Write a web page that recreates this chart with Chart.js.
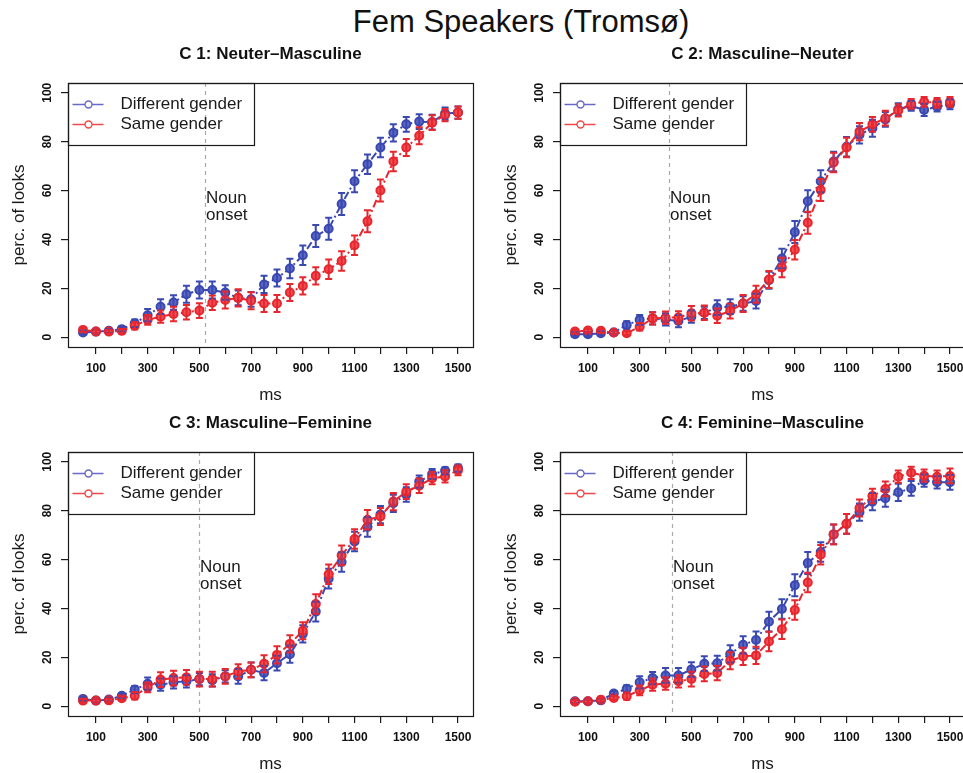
<!DOCTYPE html>
<html>
<head>
<meta charset="utf-8">
<script src="https://cdn.jsdelivr.net/npm/chart.js@4.4.1/dist/chart.umd.min.js"></script>
<style>
  html, body { margin: 0; padding: 0; background: #fff; width: 963px; height: 773px; overflow: hidden; }
  body { position: relative; font-family: "Liberation Sans", Arial, Helvetica, sans-serif; }
  #mainTitle { position: absolute; left: 221px; width: 600px; top: 2px; text-align: center; font-size: 31px; color: #111; line-height: 40px; }
  canvas { position: absolute; }
</style>
</head>
<body>
<div id="mainTitle">Fem Speakers (Tromsø)</div>
<canvas id="c1" width="490" height="370" style="left:0px;top:40px"></canvas>
<canvas id="c2" width="490" height="370" style="left:492px;top:40px"></canvas>
<canvas id="c3" width="490" height="370" style="left:0px;top:409px"></canvas>
<canvas id="c4" width="490" height="370" style="left:492px;top:409px"></canvas>
<script>
// ---------- data ----------
const msValues = [50,100,150,200,250,300,350,400,450,500,550,600,650,700,750,800,850,900,950,1000,1050,1100,1150,1200,1250,1300,1350,1400,1450,1500];
const xTickValues = [100,200,300,400,500,600,700,800,900,1000,1100,1200,1300,1400,1500];
const yTickValues = [0,20,40,60,80,100];
const seriesNames = ["Different gender", "Same gender"];
const panelTitles = ["C 1: Neuter\u2013Masculine", "C 2: Masculine\u2013Neuter", "C 3: Masculine\u2013Feminine", "C 4: Feminine\u2013Masculine"];
const nounOnsets = [520, 412, 500, 425];

const c1Diff = [1.9,2.3,2.6,3.3,5.7,9.0,12.5,14.2,17.6,19.3,19.3,18.3,16.1,15.5,21.6,24.2,28.1,33.5,41.4,44.4,54.5,63.8,70.8,77.6,83.6,87.1,88.2,88.0,91.5,91.9];
const c1Same = [3.0,2.3,2.3,2.6,4.7,7.1,8.4,9.5,10.2,10.9,14.1,15.2,16.1,14.9,13.8,13.8,18.3,21.0,25.1,27.8,31.2,37.6,47.4,60.0,71.9,77.6,82.4,87.8,90.9,91.9];
const c1DiffErr = [0.8,0.8,0.8,1.0,1.5,2.5,3.0,3.0,3.5,3.5,3.5,3.0,3.0,3.0,3.5,3.5,4.0,4.0,4.5,4.5,4.5,4.5,4.0,4.0,3.5,3.0,3.0,3.0,2.5,2.5];
const c1SameErr = [0.8,0.8,0.8,0.8,1.5,2.0,2.5,3.0,3.0,3.0,3.0,3.5,3.5,3.5,3.5,3.5,3.5,3.5,3.5,4.0,4.0,4.0,4.5,4.5,4.0,3.5,3.5,3.0,2.5,2.5];

const c2Diff = [1.2,1.2,1.6,1.9,5.0,7.1,7.7,7.3,6.6,8.4,10.0,12.1,12.5,13.8,14.8,23.3,32.2,43.0,55.6,63.8,71.9,77.9,82.8,85.5,89.1,93.2,94.6,93.0,94.3,95.3];
const c2Same = [2.3,2.7,2.6,1.9,1.6,4.3,7.7,8.0,8.1,9.8,10.0,8.8,10.7,13.8,17.6,23.6,28.5,35.8,46.8,60.2,71.5,77.6,84.1,87.1,89.6,92.8,95.5,96.3,95.9,96.3];
const c2DiffErr = [0.8,0.8,0.8,0.8,1.5,2.0,2.5,2.5,2.5,2.5,2.5,3.0,3.0,3.0,3.0,3.5,4.0,4.5,4.5,4.5,4.0,4.0,3.5,3.5,3.0,2.5,2.0,2.5,2.0,2.0];
const c2SameErr = [0.8,0.8,0.8,0.8,0.8,1.5,2.5,2.5,2.5,3.0,3.0,3.0,3.0,3.5,3.5,3.5,4.0,4.0,4.5,4.5,4.0,4.0,3.5,3.0,3.0,2.5,2.0,2.0,2.0,2.0];

const c3Diff = [3.0,2.3,2.7,4.3,6.8,9.2,8.8,9.8,10.2,11.1,10.6,12.2,12.2,14.9,13.6,17.6,21.3,29.6,38.7,52.2,59.0,67.4,73.3,78.4,83.0,86.6,91.9,95.0,96.3,97.4];
const c3Same = [2.3,2.3,2.4,3.3,4.3,7.7,10.9,11.5,11.8,11.1,11.1,12.2,14.2,14.9,17.4,21.0,25.5,30.9,41.8,54.0,61.7,68.4,76.3,77.6,83.7,87.8,90.2,93.3,94.0,96.5];
const c3DiffErr = [0.8,0.8,0.8,1.0,1.5,2.5,2.5,2.5,2.5,2.5,2.5,2.5,3.0,3.0,3.0,3.0,3.5,3.5,4.0,4.0,4.0,4.0,4.0,3.5,3.5,3.0,2.5,2.0,1.5,1.5];
const c3SameErr = [0.8,0.8,0.8,0.8,1.5,2.0,3.0,3.0,3.0,3.0,3.0,3.0,3.0,3.0,3.5,3.5,3.5,3.5,4.0,4.0,4.0,4.0,4.0,3.5,3.5,3.0,3.0,2.5,2.5,2.0];

const c4Diff = [2.0,2.0,2.4,5.2,7.1,9.8,11.5,12.6,12.6,15.0,17.4,17.6,21.4,25.1,27.1,34.6,39.8,49.5,58.6,63.1,70.3,74.6,79.4,83.7,85.1,87.5,89.1,92.3,91.6,91.6];
const c4Same = [1.8,2.0,2.6,3.4,4.1,6.5,8.8,9.2,10.2,11.1,13.2,13.6,18.6,20.4,20.8,26.5,31.5,39.4,50.6,62.0,70.3,74.6,81.1,86.0,88.9,93.9,95.5,94.3,93.9,94.2];
const c4DiffErr = [0.8,0.8,0.8,1.0,1.5,2.5,2.5,3.0,3.0,3.0,3.0,3.0,3.5,3.5,3.5,4.0,4.0,4.5,4.5,4.0,4.0,4.0,3.5,3.5,3.5,3.5,3.0,2.5,2.5,3.0];
const c4SameErr = [0.8,0.8,0.8,0.8,1.5,2.0,2.5,2.5,2.5,3.0,3.0,3.0,3.5,3.5,3.5,4.0,4.0,4.0,4.0,4.0,4.0,4.0,3.5,3.0,3.0,2.5,2.5,2.5,2.5,3.0];

// ---------- styling ----------
const FONT = '"Liberation Sans", Arial, Helvetica, sans-serif';
const BLUE = '#3a48b2';
const RED = '#e8262e';
const BLUE_FILL = '#5d68c2';
const RED_FILL = '#ef4e54';
const BLUE_LEG = '#6868c8';
const RED_LEG = '#f04848';
const INK = '#1a1a1a';

const panels = [
  { id: 'c1', diff: c1Diff, same: c1Same, diffErr: c1DiffErr, sameErr: c1SameErr },
  { id: 'c2', diff: c2Diff, same: c2Same, diffErr: c2DiffErr, sameErr: c2SameErr },
  { id: 'c3', diff: c3Diff, same: c3Same, diffErr: c3DiffErr, sameErr: c3SameErr },
  { id: 'c4', diff: c4Diff, same: c4Same, diffErr: c4DiffErr, sameErr: c4SameErr }
];

const decorPlugin = {
  id: 'decor',
  beforeDatasetsDraw(chart, args, opts) {
    const ctx = chart.ctx, ca = chart.chartArea, xs = chart.scales.x;
    const ox = Math.round(xs.getPixelForValue(opts.onset)) + 0.5;
    ctx.save();
    ctx.strokeStyle = '#aaaaaa';
    ctx.lineWidth = 1.2;
    ctx.setLineDash([4, 4]);
    ctx.beginPath();
    ctx.moveTo(ox, ca.top);
    ctx.lineTo(ox, ca.bottom);
    ctx.stroke();
    ctx.setLineDash([]);
    ctx.fillStyle = INK;
    ctx.font = '17px ' + FONT;
    ctx.textAlign = 'left';
    ctx.textBaseline = 'middle';
    ctx.fillText('Noun', ox + 0.5, ca.top + 115);
    ctx.fillText('onset', ox + 0.5, ca.top + 132);
    ctx.restore();
  },
  afterDatasetsDraw(chart, args, opts) {
    const ctx = chart.ctx, xs = chart.scales.x, ys = chart.scales.y;
    const bars = [[opts.diff, opts.diffErr, BLUE], [opts.same, opts.sameErr, RED]];
    ctx.save();
    ctx.lineWidth = 2;
    bars.forEach(([vals, errs, col]) => {
      ctx.strokeStyle = col;
      vals.forEach((v, i) => {
        const px = xs.getPixelForValue(msValues[i]);
        const pt = ys.getPixelForValue(v + errs[i]);
        const pb = ys.getPixelForValue(v - errs[i]);
        ctx.beginPath();
        ctx.moveTo(px, pt); ctx.lineTo(px, pb);
        ctx.moveTo(px - 3.5, pt); ctx.lineTo(px + 3.5, pt);
        ctx.moveTo(px - 3.5, pb); ctx.lineTo(px + 3.5, pb);
        ctx.stroke();
      });
    });
    ctx.restore();
  },
  afterDraw(chart, args, opts) {
    const ctx = chart.ctx, ca = chart.chartArea;
    ctx.save();
    ctx.strokeStyle = INK;
    ctx.lineWidth = 1.2;
    ctx.strokeRect(Math.round(ca.left) + 0.5, Math.round(ca.top) + 0.5, Math.round(ca.right - ca.left), Math.round(ca.bottom - ca.top));
    const lx = Math.round(ca.left) + 0.5, ly = Math.round(ca.top) + 0.5;
    ctx.strokeRect(lx, ly, 186, 62);
    const rows = [[seriesNames[0], BLUE_LEG, 21], [seriesNames[1], RED_LEG, 41]];
    rows.forEach(([txt, col, dy]) => {
      ctx.strokeStyle = col;
      ctx.lineWidth = 1.4;
      ctx.beginPath();
      ctx.moveTo(lx + 4, ly + dy); ctx.lineTo(lx + 16.5, ly + dy);
      ctx.moveTo(lx + 23.5, ly + dy); ctx.lineTo(lx + 35, ly + dy);
      ctx.stroke();
      ctx.beginPath();
      ctx.arc(lx + 20, ly + dy, 3.5, 0, Math.PI * 2);
      ctx.stroke();
      ctx.fillStyle = INK;
      ctx.font = '17px ' + FONT;
      ctx.textAlign = 'left';
      ctx.textBaseline = 'middle';
      ctx.fillText(txt, lx + 52, ly + dy);
    });
    ctx.restore();
  }
};

panels.forEach((p, k) => {
  const toPts = arr => msValues.map((x, i) => ({ x: x, y: arr[i] }));
  new Chart(document.getElementById(p.id), {
    type: 'line',
    data: {
      datasets: [
        { label: seriesNames[0], data: toPts(p.diff), borderColor: BLUE, backgroundColor: BLUE,
          borderWidth: 2, borderDash: [8, 3, 2, 3], pointRadius: 4, pointBorderWidth: 2,
          pointBackgroundColor: BLUE_FILL, pointBorderColor: BLUE, order: 1, tension: 0, fill: false },
        { label: seriesNames[1], data: toPts(p.same), borderColor: RED, backgroundColor: RED,
          borderWidth: 2, borderDash: [2, 3, 8, 3], pointRadius: 4, pointBorderWidth: 2,
          pointBackgroundColor: RED_FILL, pointBorderColor: RED, order: 0, tension: 0, fill: false }
      ]
    },
    options: {
      responsive: false,
      devicePixelRatio: 1,
      animation: false,
      layout: { padding: { left: 0, right: 17, top: 0, bottom: 0 } },
      plugins: {
        legend: { display: false },
        tooltip: { enabled: false },
        title: {
          display: true, text: panelTitles[k], fullSize: false, color: '#111',
          font: { family: FONT, size: 17, weight: 'bold', lineHeight: 1.2 },
          padding: { top: 3.8, bottom: 18.8 }
        },
        decor: { onset: nounOnsets[k], diff: p.diff, same: p.same, diffErr: p.diffErr, sameErr: p.sameErr }
      },
      scales: {
        x: {
          type: 'linear', min: -8, max: 1558,
          afterBuildTicks: s => { s.ticks = xTickValues.map(v => ({ value: v })); },
          afterFit: s => { s.height = 63; },
          border: { display: false },
          grid: { drawOnChartArea: false, drawTicks: true, tickLength: 7, color: INK, lineWidth: 1.2 },
          ticks: {
            autoSkip: false, maxRotation: 0, minRotation: 0, padding: 7, color: '#111',
            font: { family: FONT, size: 12, weight: 'bold' },
            callback: v => (v % 200 === 100 ? String(v) : '')
          },
          title: { display: true, text: 'ms', color: INK, font: { family: FONT, size: 17 }, padding: { top: 0, bottom: 4.8 } }
        },
        y: {
          type: 'linear', min: -4, max: 104,
          afterBuildTicks: s => { s.ticks = yTickValues.map(v => ({ value: v })); },
          afterFit: s => { s.width = 68; },
          border: { display: false },
          grid: { drawOnChartArea: false, drawTicks: true, tickLength: 7, color: INK, lineWidth: 1.2 },
          ticks: {
            minRotation: 90, maxRotation: 90, crossAlign: 'center', padding: 3, color: '#111',
            font: { family: FONT, size: 12, weight: 'bold' }
          },
          title: { display: true, text: 'perc. of looks', color: INK, font: { family: FONT, size: 17 }, padding: { top: 9, bottom: 0 } }
        }
      }
    },
    plugins: [decorPlugin]
  });
});
</script>
</body>
</html>
